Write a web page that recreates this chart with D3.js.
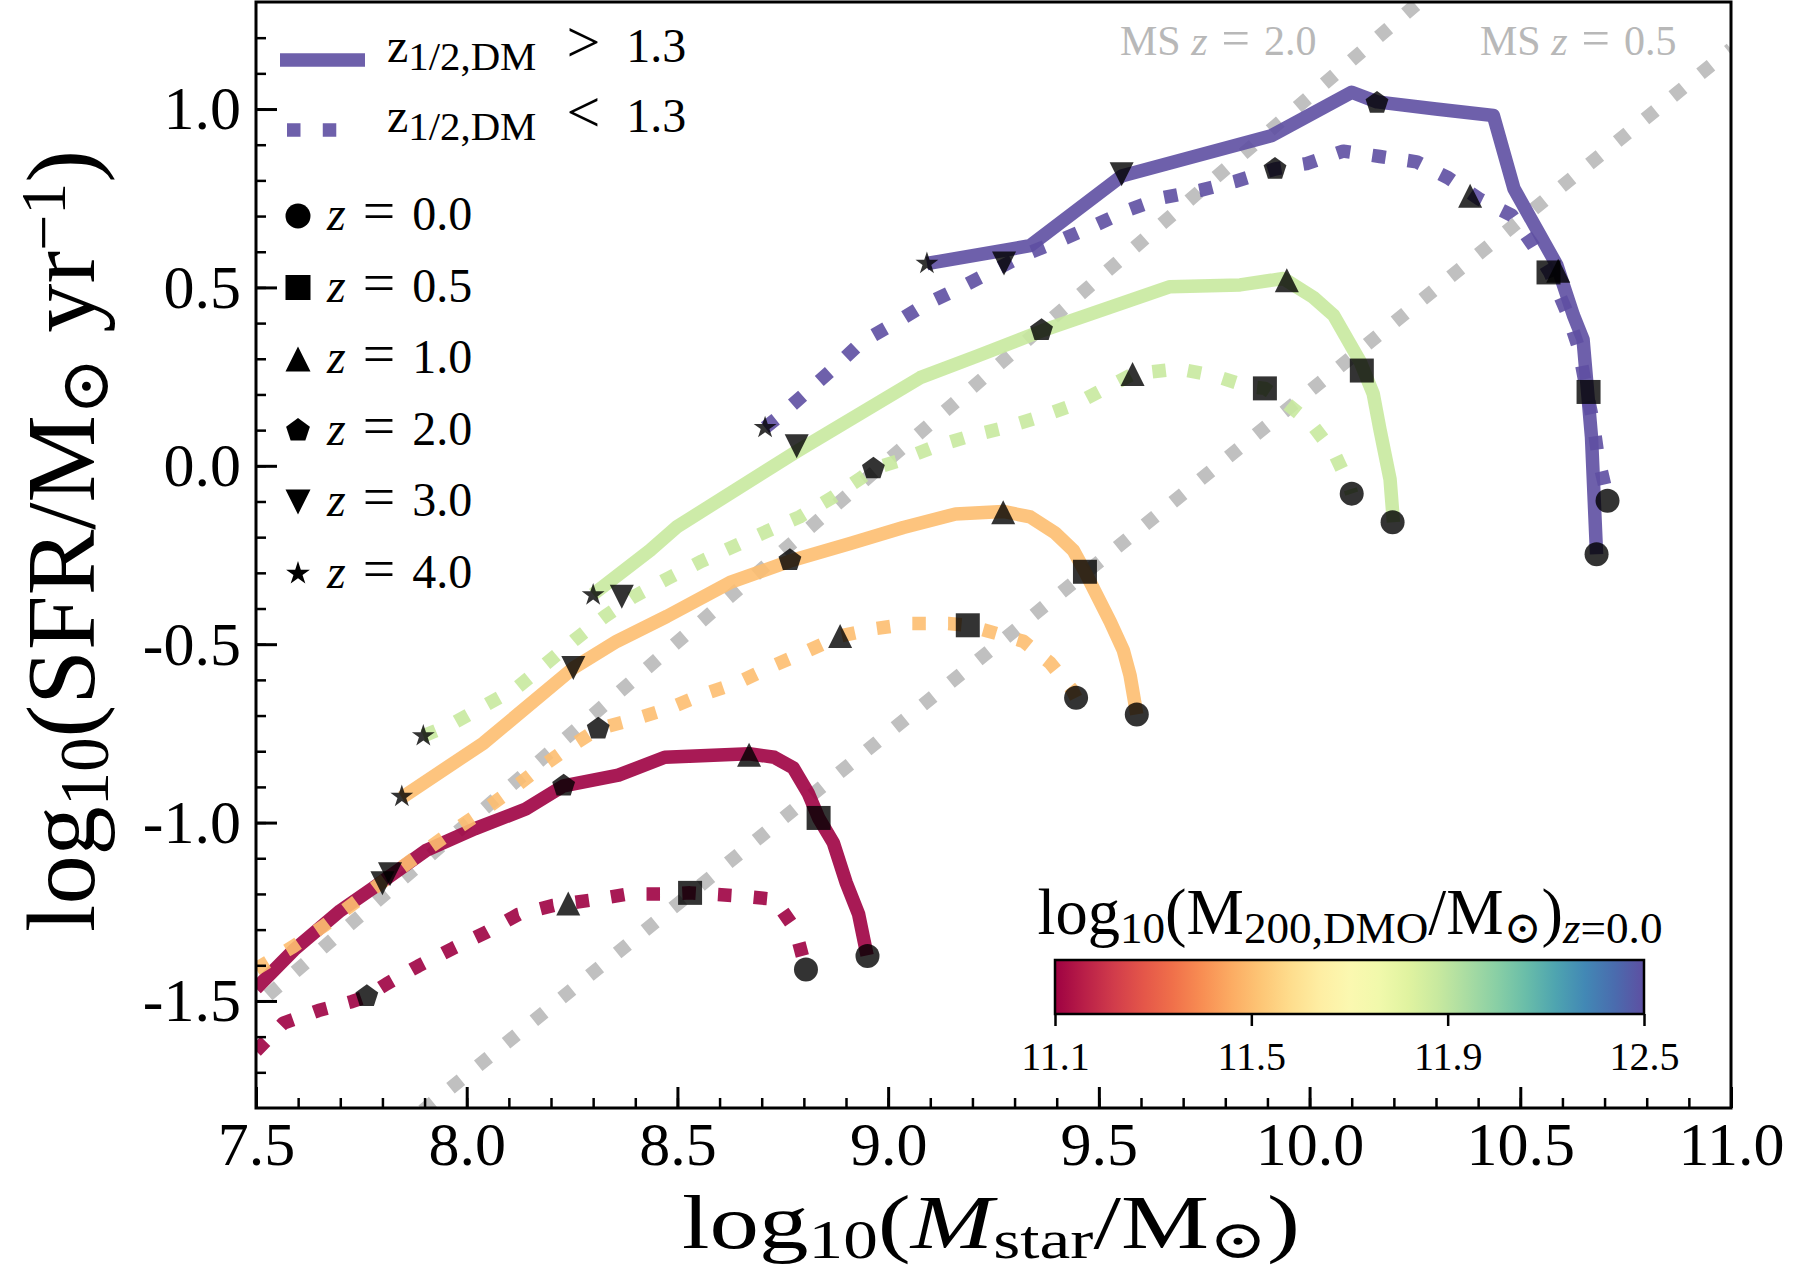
<!DOCTYPE html>
<html>
<head>
<meta charset="utf-8">
<script src="https://cdn.jsdelivr.net/npm/d3@7/dist/d3.min.js"></script>
<style>
  body { margin: 0; background: #fff; }
</style>
</head>
<body>
<div id="chart"></div>
<script>
var w = 1796;
var h = 1271;
var SERIF = "'Liberation Serif', 'DejaVu Serif', serif";

// axes
var xDomain = [7.5, 11.0];
var yDomain = [-1.8, 1.3];
var xMajor = [7.5, 8.0, 8.5, 9.0, 9.5, 10.0, 10.5, 11.0];
var yMajor = [-1.5, -1.0, -0.5, 0.0, 0.5, 1.0];
var cbTicks = [11.1, 11.5, 11.9, 12.5];

// halo mass of each colour group: crimson, orange, green, purple
var haloMass = [11.10, 11.50, 11.88, 12.50];
var redshifts = [0.0, 0.5, 1.0, 2.0, 3.0, 4.0];
var shapes = ["circle", "square", "triangle", "pentagon", "triangleDown", "star"];

// main sequence lines (end points)
var msZ20 = [[7.40, -1.615], [10.40, 1.443]];
var msZ05 = [[7.50, -2.187], [11.00, 1.168]];

// tracks, z1/2 > 1.3 (solid) and z1/2 < 1.3 (dotted)
var crimsonEarly = [[7.50, -1.465], [7.59, -1.357], [7.70, -1.247], [7.80, -1.165], [7.905, -1.077], [8.02, -1.017], [8.14, -0.962], [8.23, -0.897], [8.36, -0.867], [8.47, -0.817], [8.67, -0.807], [8.73, -0.817], [8.775, -0.847], [8.81, -0.917], [8.835, -0.987], [8.87, -1.057], [8.90, -1.167], [8.93, -1.257], [8.95, -1.372]];
var crimsonLate = [[7.50, -1.64], [7.565, -1.562], [7.648, -1.527], [7.727, -1.502], [7.763, -1.487], [7.81, -1.452], [7.885, -1.402], [7.968, -1.352], [8.047, -1.307], [8.123, -1.257], [8.206, -1.232], [8.297, -1.217], [8.384, -1.20], [8.47, -1.20], [8.53, -1.197], [8.64, -1.205], [8.73, -1.215], [8.78, -1.30], [8.80, -1.39], [8.805, -1.412]];
var orangeEarly = [[7.846, -0.93], [8.04, -0.777], [8.253, -0.567], [8.356, -0.492], [8.475, -0.422], [8.625, -0.327], [8.767, -0.267], [8.91, -0.218], [9.036, -0.173], [9.16, -0.135], [9.273, -0.128], [9.337, -0.143], [9.396, -0.188], [9.44, -0.238], [9.467, -0.297], [9.527, -0.437], [9.558, -0.517], [9.574, -0.587], [9.59, -0.697]];
var orangeLate = [[7.50, -1.41], [7.589, -1.347], [7.664, -1.287], [7.731, -1.227], [7.818, -1.15], [7.873, -1.102], [7.945, -1.042], [8.02, -0.982], [8.091, -0.922], [8.162, -0.857], [8.233, -0.797], [8.312, -0.737], [8.392, -0.712], [8.475, -0.682], [8.558, -0.642], [8.645, -0.607], [8.724, -0.562], [8.803, -0.522], [8.886, -0.477], [8.965, -0.457], [9.056, -0.442], [9.143, -0.442], [9.189, -0.447], [9.234, -0.462], [9.321, -0.492], [9.384, -0.552], [9.436, -0.627], [9.446, -0.65]];
var greenEarly = [[8.30, -0.36], [8.435, -0.237], [8.50, -0.17], [8.783, 0.04], [9.076, 0.247], [9.21, 0.307], [9.364, 0.378], [9.669, 0.502], [9.835, 0.507], [9.938, 0.525], [10.009, 0.472], [10.057, 0.422], [10.12, 0.292], [10.151, 0.202], [10.167, 0.102], [10.191, -0.038], [10.199, -0.158]];
var greenLate = [[7.897, -0.757], [7.96, -0.727], [8.043, -0.672], [8.119, -0.622], [8.186, -0.557], [8.257, -0.487], [8.328, -0.422], [8.396, -0.367], [8.475, -0.317], [8.558, -0.267], [8.70, -0.19], [8.79, -0.143], [8.87, -0.087], [8.937, -0.033], [8.965, -0.008], [9.02, 0.012], [9.107, 0.052], [9.19, 0.082], [9.277, 0.107], [9.36, 0.137], [9.443, 0.172], [9.523, 0.222], [9.58, 0.257], [9.689, 0.272], [9.776, 0.252], [9.855, 0.222], [9.894, 0.217], [9.938, 0.182], [10.005, 0.117], [10.06, 0.032], [10.092, -0.048], [10.10, -0.078]];
var purpleEarly = [[9.092, 0.567], [9.337, 0.617], [9.554, 0.812], [9.909, 0.925], [10.10, 1.047], [10.16, 1.02], [10.30, 1.00], [10.436, 0.982], [10.485, 0.777], [10.587, 0.562], [10.626, 0.422], [10.649, 0.354], [10.669, 0.08], [10.681, -0.248]];
var purpleLate = [[8.708, 0.107], [8.74, 0.137], [8.807, 0.207], [8.874, 0.277], [8.937, 0.347], [9.012, 0.397], [9.088, 0.452], [9.167, 0.497], [9.25, 0.547], [9.325, 0.592], [9.408, 0.632], [9.487, 0.672], [9.57, 0.717], [9.653, 0.752], [9.74, 0.772], [9.823, 0.797], [9.918, 0.832], [9.993, 0.847], [10.08, 0.882], [10.167, 0.867], [10.254, 0.852], [10.329, 0.807], [10.404, 0.747], [10.48, 0.702], [10.531, 0.617], [10.57, 0.542], [10.61, 0.432], [10.638, 0.332], [10.658, 0.207], [10.673, 0.122], [10.685, 0.022], [10.705, -0.078], [10.707, -0.098]];

// markers at z = 0, 0.5, 1, 2, 3, 4 (null = outside the plot)
var crimsonEarlyMarks = [[8.951, -1.374], [8.835, -0.987], [8.67, -0.81], [8.23, -0.897], [7.80, -1.17], null];
var crimsonLateMarks = [[8.805, -1.412], [8.53, -1.197], [8.241, -1.227], [7.763, -1.487], null, null];
var orangeEarlyMarks = [[9.59, -0.697], [9.467, -0.297], [9.273, -0.13], [8.767, -0.265], [8.253, -0.567], [7.846, -0.927]];
var orangeLateMarks = [[9.446, -0.65], [9.189, -0.447], [8.886, -0.477], [8.312, -0.737], [7.818, -1.145], null];
var greenEarlyMarks = [[10.197, -0.158], [10.124, 0.267], [9.946, 0.52], [9.364, 0.38], [8.783, 0.055], [8.30, -0.362]];
var greenLateMarks = [[10.10, -0.078], [9.894, 0.217], [9.58, 0.257], [8.965, -0.008], [8.368, -0.367], [7.897, -0.757]];
var purpleEarlyMarks = [[10.681, -0.248], [10.662, 0.207], [10.59, 0.547], [10.16, 1.017], [9.554, 0.817], [9.092, 0.567]];
var purpleLateMarks = [[10.707, -0.098], [10.567, 0.542], [10.381, 0.757], [9.918, 0.832], [9.275, 0.567], [8.708, 0.107]];

var curves = [
  { line: crimsonEarly, marks: crimsonEarlyMarks, group: 0, dotted: false },
  { line: crimsonLate, marks: crimsonLateMarks, group: 0, dotted: true },
  { line: orangeEarly, marks: orangeEarlyMarks, group: 1, dotted: false },
  { line: orangeLate, marks: orangeLateMarks, group: 1, dotted: true },
  { line: greenEarly, marks: greenEarlyMarks, group: 2, dotted: false },
  { line: greenLate, marks: greenLateMarks, group: 2, dotted: true },
  { line: purpleEarly, marks: purpleEarlyMarks, group: 3, dotted: false },
  { line: purpleLate, marks: purpleLateMarks, group: 3, dotted: true },
];

// scales
var x = d3.scaleLinear().domain(xDomain).range([256, 1731]);
var y = d3.scaleLinear().domain(yDomain).range([1108, 2]);
var massNorm = d3.scaleLinear().domain(cbTicks).range([0, 1 / 3, 2 / 3, 1]);
var massColor = (m) => d3.interpolateSpectral(massNorm(m));
var cbX = d3.scaleLinear().domain([0, 1]).range([1055, 1644]);

var lw = 13.5;
var dots = lw + "," + (lw * 1.65);
var fmt = d3.formatLocale({ decimal: ".", thousands: ",", grouping: [3], currency: ["", ""], minus: "-" }).format(".1f");

var svg = d3.select("#chart").append("svg").attr("width", w).attr("height", h);
svg.append("rect").attr("width", w).attr("height", h).attr("fill", "#fff");
svg.append("clipPath").attr("id", "clip").append("rect")
  .attr("x", x(xDomain[0])).attr("y", y(yDomain[1]))
  .attr("width", x(xDomain[1]) - x(xDomain[0])).attr("height", y(yDomain[0]) - y(yDomain[1]));

// rich text helper: parts = [{t, sub, sup, it, big, dx}]
function rich(sel, parts, subScale) {
  parts.forEach((p) => {
    var ts = sel.append("tspan").text(p.t);
    if (p.it) ts.attr("font-style", "italic");
    if (p.dx) ts.attr("dx", p.dx);
    if (p.big) ts.attr("font-size", p.big + "em");
    if (p.sub) ts.attr("font-size", (subScale || 0.7) + "em").attr("baseline-shift", "-0.2em");
    if (p.sup) ts.attr("font-size", "0.65em").attr("baseline-shift", "0.45em");
  });
  return sel;
}
function fitWidth(sel, target) {
  var fs = +sel.attr("font-size");
  var cur = sel.node().getComputedTextLength();
  sel.attr("font-size", (fs * target) / cur);
}

var plot = svg.append("g").attr("clip-path", "url(#clip)");
var line = d3.line().x((d) => x(d[0])).y((d) => y(d[1]));

// main sequence lines
plot.selectAll(".ms")
  .data([msZ20, msZ05])
  .enter()
  .append("path")
  .attr("d", line)
  .attr("fill", "none")
  .attr("stroke", "#c0c0c0")
  .attr("stroke-width", lw)
  .attr("stroke-dasharray", dots);

// tracks
plot.selectAll(".track")
  .data(curves)
  .enter()
  .append("path")
  .attr("d", (d) => line(d.line))
  .attr("fill", "none")
  .attr("stroke", (d) => massColor(haloMass[d.group]))
  .attr("stroke-opacity", 0.9)
  .attr("stroke-width", lw)
  .attr("stroke-linejoin", "round")
  .attr("stroke-dasharray", (d) => (d.dotted ? dots : null));

// marker shapes
function shapePath(shape, s) {
  var r = s / 2;
  var pts;
  if (shape == "circle") return d3.symbol(d3.symbolCircle, Math.PI * r * r)();
  if (shape == "square") pts = [[-r, -r], [r, -r], [r, r], [-r, r]];
  if (shape == "triangle") pts = [[0, -r], [r, r], [-r, r]];
  if (shape == "triangleDown") pts = [[0, r], [r, -r], [-r, -r]];
  if (shape == "pentagon") pts = d3.range(5).map((k) => {
    var a = -Math.PI / 2 + (k * 2 * Math.PI) / 5;
    return [r * Math.cos(a), r * Math.sin(a)];
  });
  if (shape == "star") pts = d3.range(10).map((k) => {
    var a = -Math.PI / 2 + (k * Math.PI) / 5;
    var rr = k % 2 ? r * 0.381966 : r;
    return [rr * Math.cos(a), rr * Math.sin(a)];
  });
  return "M" + pts.map((p) => p.join(",")).join("L") + "Z";
}

var markData = [];
curves.forEach((c) => {
  c.marks.forEach((m, i) => {
    if (m) markData.push({ x: m[0], y: m[1], shape: shapes[i] });
  });
});
plot.selectAll(".mark")
  .data(markData)
  .enter()
  .append("path")
  .attr("transform", (d) => "translate(" + x(d.x) + "," + y(d.y) + ")")
  .attr("d", (d) => shapePath(d.shape, 24))
  .attr("fill", "#000")
  .attr("fill-opacity", 0.8);

// axes
var xAxis = svg.append("g").attr("transform", "translate(0," + y(yDomain[0]) + ")")
  .call(d3.axisBottom(x).tickValues(xMajor).tickFormat(fmt).tickSize(-21).tickPadding(13));
var xMinor = svg.append("g").attr("transform", "translate(0," + y(yDomain[0]) + ")")
  .call(d3.axisBottom(x).tickValues(d3.range(75, 111).map((v) => v / 10)).tickFormat("").tickSize(-10));
var yAxis = svg.append("g").attr("transform", "translate(" + x(xDomain[0]) + ",0)")
  .call(d3.axisLeft(y).tickValues(yMajor).tickFormat(fmt).tickSize(-21).tickPadding(15));
var yMinor = svg.append("g").attr("transform", "translate(" + x(xDomain[0]) + ",0)")
  .call(d3.axisLeft(y).tickValues(d3.range(-17, 13).map((v) => v / 10)).tickFormat("").tickSize(-10));
[xAxis, yAxis, xMinor, yMinor].forEach((g) => {
  g.select(".domain").remove();
  g.selectAll("text").attr("font-family", SERIF).attr("font-size", 62).attr("fill", "#000");
});
[xAxis, yAxis].forEach((g) => g.selectAll("line").attr("stroke-width", 3));
[xMinor, yMinor].forEach((g) => g.selectAll("line").attr("stroke-width", 2.5));

svg.append("rect")
  .attr("x", x(xDomain[0])).attr("y", y(yDomain[1]))
  .attr("width", x(xDomain[1]) - x(xDomain[0])).attr("height", y(yDomain[0]) - y(yDomain[1]))
  .attr("fill", "none").attr("stroke", "#000").attr("stroke-width", 3);

// axis labels (x label stretched sideways to keep it clear of the tick labels)
var xLabel = svg.append("text")
  .attr("text-anchor", "middle").attr("font-family", SERIF).attr("font-size", 77);
rich(xLabel, [{ t: "log" }, { t: "10", sub: true }, { t: "(" }, { t: "M", it: true }, { t: "star", sub: true }, { t: "/M" }, { t: "\u2299", sub: true }, { t: ")" }]);
var xStretch = 618 / xLabel.node().getComputedTextLength();
xLabel.attr("transform", "translate(991,1248) scale(" + xStretch + ",1)");

var yLabel = svg.append("text")
  .attr("transform", "translate(94,541) rotate(-90)")
  .attr("text-anchor", "middle").attr("font-family", SERIF).attr("font-size", 90);
rich(yLabel, [{ t: "log" }, { t: "10", sub: true }, { t: "(SFR/M" }, { t: "\u2299", sub: true }, { t: " yr" }, { t: "\u22121", sup: true }, { t: ")" }]);
fitWidth(yLabel, 782);

// MS labels
var msLabels = [{ text: "2.0", x: 1120 }, { text: "0.5", x: 1480 }];
msLabels.forEach((m) => {
  var t = svg.append("text").attr("x", m.x).attr("y", 55)
    .attr("font-family", SERIF).attr("font-size", 42).attr("fill", "#b8b8b8");
  rich(t, [{ t: "MS " }, { t: "z", it: true }, { t: "=", dx: 14, big: 1.2 }, { t: m.text, dx: 14 }]);
});

// legend: line styles
var legColor = massColor(haloMass[3]);
svg.append("line").attr("x1", 280).attr("x2", 365).attr("y1", 60).attr("y2", 60)
  .attr("stroke", legColor).attr("stroke-opacity", 0.9).attr("stroke-width", lw);
svg.append("line").attr("x1", 287).attr("x2", 340).attr("y1", 130).attr("y2", 130)
  .attr("stroke", legColor).attr("stroke-opacity", 0.9).attr("stroke-width", lw)
  .attr("stroke-dasharray", dots);
[[">", 62], ["<", 132]].forEach((d) => {
  var t = svg.append("text").attr("x", 387).attr("y", d[1])
    .attr("font-family", SERIF).attr("font-size", 48);
  rich(t, [{ t: "z" }, { t: "1/2,DM", sub: true }, { t: d[0], dx: 30, big: 1.25 }, { t: "1.3", dx: 26 }], 0.85);
});

// legend: redshift markers
redshifts.forEach((z, i) => {
  var cy = 216 + i * 71.5;
  svg.append("path").attr("transform", "translate(298," + cy + ")")
    .attr("d", shapePath(shapes[i], 25)).attr("fill", "#000");
  var t = svg.append("text").attr("x", 327).attr("y", cy + 14)
    .attr("font-family", SERIF).attr("font-size", 48);
  rich(t, [{ t: "z", it: true }, { t: "=", dx: 17, big: 1.2 }, { t: z.toFixed(1), dx: 17 }]);
});

// colourbar
var grad = svg.append("defs").append("linearGradient").attr("id", "spec");
d3.range(0, 1.0001, 0.05).forEach((f) => {
  grad.append("stop").attr("offset", f).attr("stop-color", d3.interpolateSpectral(f));
});
svg.append("rect").attr("x", cbX(0)).attr("y", 960).attr("width", cbX(1) - cbX(0)).attr("height", 54)
  .attr("fill", "url(#spec)").attr("stroke", "#000").attr("stroke-width", 2.5);
var cbAxis = svg.append("g").attr("transform", "translate(0,1014)")
  .call(d3.axisBottom(cbX).tickValues(cbTicks.map(massNorm)).tickFormat((d, i) => fmt(cbTicks[i])).tickSize(12).tickPadding(16));
cbAxis.select(".domain").remove();
cbAxis.selectAll("line").attr("stroke-width", 2.5);
cbAxis.selectAll("text").attr("font-family", SERIF).attr("font-size", 40).attr("fill", "#000");

var cbTitle = svg.append("text").attr("x", 1350).attr("y", 934)
  .attr("text-anchor", "middle").attr("font-family", SERIF).attr("font-size", 54);
rich(cbTitle, [{ t: "log" }, { t: "10", sub: true }, { t: "(M" }, { t: "200,DMO", sub: true }, { t: "/M" }, { t: "\u2299", sub: true }, { t: ")" }, { t: "z", sub: true, it: true }, { t: "=0.0", sub: true }]);
fitWidth(cbTitle, 625);
</script>
</body>
</html>
